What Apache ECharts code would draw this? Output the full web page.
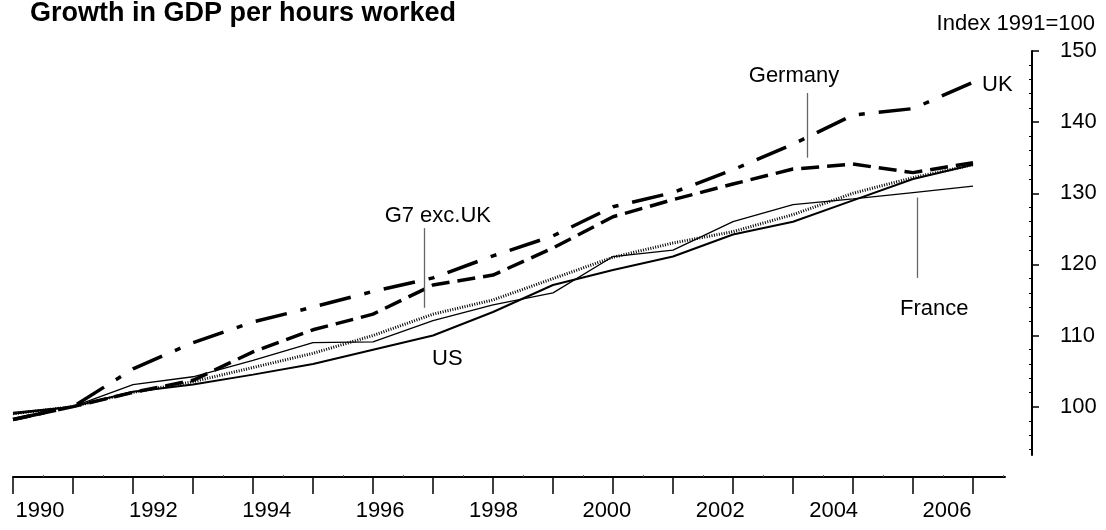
<!DOCTYPE html>
<html>
<head>
<meta charset="utf-8">
<script src="https://cdn.jsdelivr.net/npm/echarts@6/dist/echarts.min.js"></script>
<style>
html,body{margin:0;padding:0;background:#fff}
#main{width:1106px;height:530px}
</style>
</head>
<body>
<div id="main"></div>
<script>
// data, index 1991=100
var years   = [1990,1991,1992,1993,1994,1995,1996,1997,1998,1999,2000,2001,2002,2003,2004,2005,2006];
var uk      = [98.2,100,105.3,109,111.9,114,116.2,118.1,121.2,124,128.1,130.1,133.3,136.9,141,141.9,145.6];
var germany = [98.2,100,102,103.7,107.7,110.8,113,117.1,118.5,122.3,126.7,129.1,131.3,133.4,134.1,132.9,134.3];
var g7      = [99,100,102,103.5,105.5,107.5,110,113,115,118,121,123,124.6,127,130,132.2,134];
var us      = [99,100,102.1,103.1,104.5,106,108,110,113.3,117.1,119.2,121.1,124.2,126,129,132,134];
var france  = [99.2,100,103.1,104.2,106.5,109,109.1,112.1,114.3,116,121.1,122,126,128.4,129.2,130.1,131];

var yearLabels = [1990,1992,1994,1996,1998,2000,2002,2004,2006];
var yTicks     = [100,110,120,130,140,150];
var yMinor     = [94,96,98,102,104,106,108,112,114,116,118,122,124,126,128,132,134,136,138,142,144,146,148];
var xMinor     = [1990.5,1991.5,1992.5,1993.5,1994.5,1995.5,1996.5,1997.5,1998.5,1999.5,2000.5,2001.5,2002.5,2003.5,2004.5,2005.5,2006.5];

// pointer lines for the series names: [year, from, to]
var pointers = [
  [2003.23,144.1,135.0],  // Germany
  [1996.85,125.1,113.9],  // G7 exc.UK
  [2005.07,129.4,118.1]   // France
];

var FONT = '"Liberation Sans", Arial, sans-serif';

function pairs(vals){
  return years.map(function(y,i){ return [y, vals[i]]; });
}

var chart = echarts.init(document.getElementById('main'), null, {renderer:'canvas'});

function line(name, vals, style){
  return {
    name:name, type:'line', xAxisIndex:3, yAxisIndex:1,
    data:pairs(vals), symbol:'none', smooth:false,
    lineStyle:Object.assign({color:'#000', cap:'butt'}, style),
    animation:false, silent:true
  };
}

var france_s = line('France', france, {width:1.3, type:'solid'});
france_s.markLine = {
  silent:true, symbol:['none','none'], animation:false,
  label:{show:false},
  lineStyle:{color:'#666', width:1.3, type:'solid'},
  data:pointers.map(function(p){ return [{coord:[p[0],p[1]]},{coord:[p[0],p[2]]}]; })
};

var option = {
  backgroundColor:'#fff',
  animation:false,
  textStyle:{fontFamily:FONT},
  grid:[
    {left:13, right:101, top:51, bottom:53},
    {left:13, right:101, top:51, bottom:75}
  ],
  xAxis:[
    { // visible axis: line and year ticks
      type:'value', gridIndex:0, min:1990, max:2006.5333, position:'bottom',
      axisLine:{show:true, onZero:false, lineStyle:{color:'#000', width:2}},
      axisTick:{show:true, customValues:years, length:17, lineStyle:{color:'#000', width:1.5}},
      axisLabel:{show:false}, splitLine:{show:false}
    },
    { // year labels
      type:'value', gridIndex:0, min:1989.524, max:2007.023, position:'bottom',
      axisLine:{show:false}, axisTick:{show:false}, splitLine:{show:false},
      axisLabel:{show:true, customValues:yearLabels, margin:23, color:'#000',
                 fontSize:22, fontFamily:FONT, formatter:function(v){return String(v);}}
    },
    { // minor ticks
      type:'value', gridIndex:0, min:1990, max:2006.5333, position:'bottom',
      axisLine:{show:false}, splitLine:{show:false}, axisLabel:{show:false},
      axisTick:{show:true, inside:true, customValues:xMinor, length:2, lineStyle:{color:'#555', width:1}}
    },
    { // data axis
      type:'value', gridIndex:1, min:1990, max:2006.5333, show:false
    }
  ],
  yAxis:[
    {type:'value', gridIndex:0, show:false, min:0, max:1},
    {
      type:'value', gridIndex:1, min:93.2, max:150, position:'right', offset:27,
      axisLine:{show:true, onZero:false, lineStyle:{color:'#000', width:2}},
      axisTick:{show:true, customValues:yTicks, length:7, lineStyle:{color:'#000', width:1.5}},
      axisLabel:{show:true, customValues:yTicks, margin:28, color:'#000', fontSize:22, fontFamily:FONT},
      splitLine:{show:false}
    },
    {
      type:'value', gridIndex:1, min:93.2, max:150, position:'right', offset:27,
      axisLine:{show:false}, splitLine:{show:false}, axisLabel:{show:false},
      axisTick:{show:true, inside:true, customValues:yMinor, length:3, lineStyle:{color:'#000', width:1}}
    }
  ],
  graphic:[
    {type:'text', style:{text:'Growth in GDP per hours worked', x:30, y:14, textVerticalAlign:'middle',
      font:'bold 27px ' + FONT, fill:'#000'}},
    {type:'text', style:{text:'Index 1991=100', x:1095, y:24, textAlign:'right', textVerticalAlign:'middle',
      font:'22px ' + FONT, fill:'#000'}},
    {type:'text', style:{text:'Germany', x:794, y:76, textAlign:'center', textVerticalAlign:'middle',
      font:'22px ' + FONT, fill:'#000'}},
    {type:'text', style:{text:'UK', x:982, y:85, textVerticalAlign:'middle',
      font:'22px ' + FONT, fill:'#000'}},
    {type:'text', style:{text:'G7 exc.UK', x:491, y:216, textAlign:'right', textVerticalAlign:'middle',
      font:'22px ' + FONT, fill:'#000'}},
    {type:'text', style:{text:'US', x:432, y:359, textVerticalAlign:'middle',
      font:'22px ' + FONT, fill:'#000'}},
    {type:'text', style:{text:'France', x:900, y:309, textVerticalAlign:'middle',
      font:'22px ' + FONT, fill:'#000'}}
  ],
  series:[
    france_s,
    line('US', us, {width:2, type:'solid'}),
    line('G7 exc.UK', g7, {width:3, type:[1,1.5]}),
    line('Germany', germany, {width:3.5, type:[18,8]}),
    line('UK', uk, {width:3.5, type:[32,14,6,14]})
  ]
};

chart.setOption(option);
</script>
</body>
</html>
